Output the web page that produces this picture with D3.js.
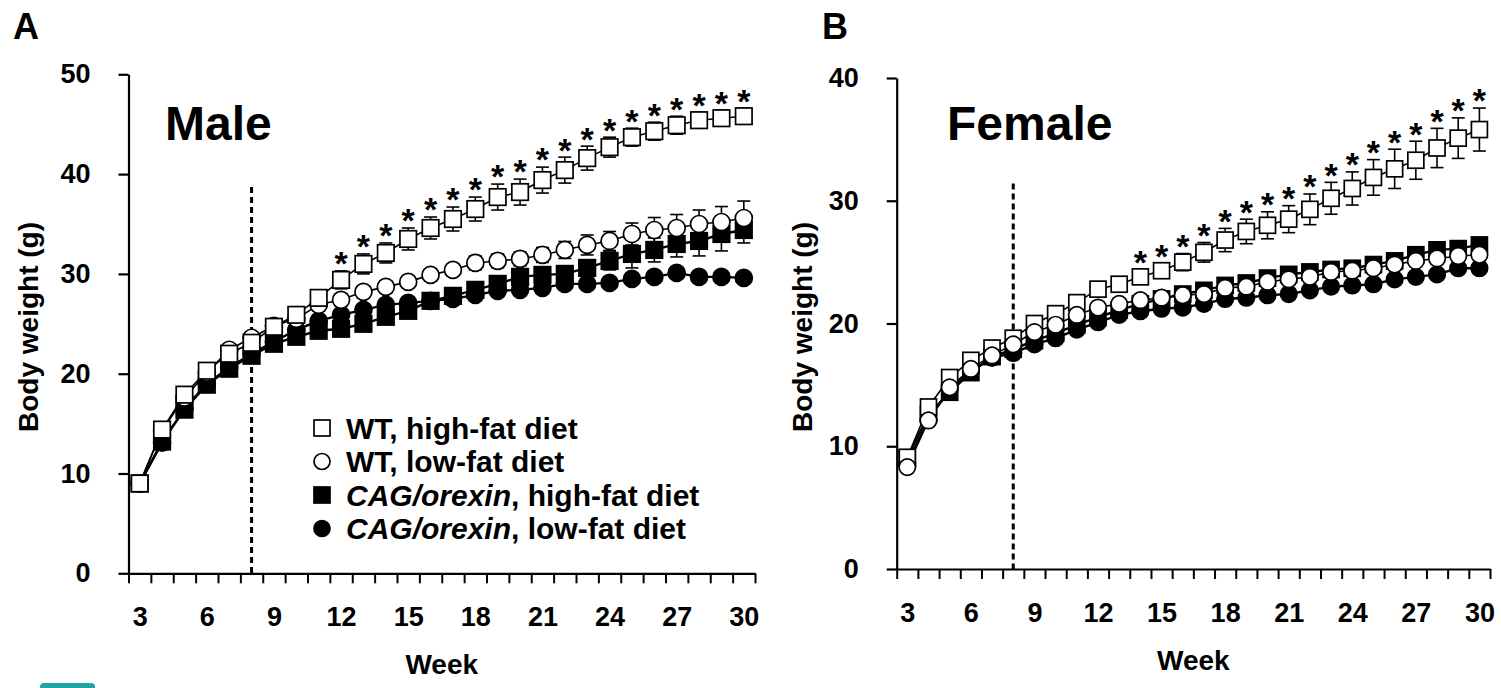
<!DOCTYPE html>
<html>
<head>
<meta charset="utf-8">
<script src="https://cdn.jsdelivr.net/npm/d3@7"></script>
<style>
  body { margin: 0; background: #fff; }
  svg text { font-family: "Liberation Sans", Arial, sans-serif; }
</style>
</head>
<body>
<script>
// weeks of age
const weeks = d3.range(3, 31);
const weekLabels = [3, 6, 9, 12, 15, 18, 21, 24, 27, 30];

// Male body weights (g)
const maleWtHf  = [9.0, 14.4, 17.9, 20.3, 22.0, 23.1, 24.7, 25.9, 27.6, 29.4, 31.0, 32.1, 33.5, 34.6, 35.5, 36.5, 37.7, 38.2, 39.4, 40.4, 41.6, 42.7, 43.7, 44.3, 44.9, 45.4, 45.6, 45.8];
const maleWtLf  = [9.0, 14.3, 17.6, 20.1, 22.4, 23.6, 24.8, 25.5, 26.9, 27.4, 28.2, 28.7, 29.2, 29.9, 30.4, 31.1, 31.3, 31.5, 31.9, 32.4, 32.9, 33.3, 34.0, 34.4, 34.6, 35.0, 35.2, 35.6];
const maleCagHf = [9.0, 13.2, 16.4, 18.9, 20.5, 21.8, 23.0, 23.7, 24.3, 24.5, 25.0, 25.7, 26.3, 27.3, 27.8, 28.4, 29.0, 29.7, 29.9, 30.0, 30.6, 31.3, 32.0, 32.4, 33.0, 33.3, 34.0, 34.4];
const maleCagLf = [9.0, 13.1, 16.5, 19.0, 20.6, 22.0, 23.2, 24.4, 25.3, 25.9, 26.4, 26.9, 27.1, 27.3, 27.5, 27.9, 28.3, 28.4, 28.6, 29.0, 29.0, 29.1, 29.5, 29.7, 30.1, 29.7, 29.7, 29.6];
const maleWtHfSem  = [0.3, 0.4, 0.5, 0.5, 0.5, 0.5, 0.6, 0.7, 0.8, 0.9, 1.0, 1.0, 1.1, 1.1, 1.2, 1.2, 1.3, 1.3, 1.3, 1.3, 1.2, 1.0, 0.9, 0.9, 0.9, 0.8, 0.8, 0.8];
const maleWtLfSem  = [0.3, 0.4, 0.5, 0.5, 0.5, 0.5, 0.5, 0.5, 0.6, 0.6, 0.6, 0.6, 0.6, 0.6, 0.6, 0.7, 0.7, 0.7, 0.75, 0.85, 1.0, 0.95, 1.1, 1.25, 1.35, 1.4, 1.55, 1.7];
const maleCagHfSem = [0.3, 0.4, 0.4, 0.4, 0.5, 0.5, 0.5, 0.5, 0.5, 0.6, 0.6, 0.6, 0.6, 0.6, 0.7, 0.7, 0.7, 0.7, 0.7, 0.8, 0.8, 0.9, 1.4, 1.2, 1.3, 1.5, 1.7, 1.3];
const maleCagLfSem = [0.3, 0.3, 0.4, 0.4, 0.4, 0.4, 0.4, 0.4, 0.4, 0.4, 0.5, 0.5, 0.5, 0.5, 0.5, 0.5, 0.5, 0.5, 0.5, 0.5, 0.5, 0.5, 0.5, 0.5, 0.5, 0.5, 0.5, 0.5];
const maleStarWeeks = d3.range(12, 31);

// Female body weights (g)
const femWtHf  = [9.1, 13.2, 15.6, 17.0, 18.0, 18.8, 20.0, 20.8, 21.7, 22.8, 23.2, 23.8, 24.3, 25.0, 25.8, 26.8, 27.5, 28.0, 28.5, 29.3, 30.2, 31.0, 31.9, 32.6, 33.3, 34.3, 35.1, 35.8];
const femWtLf  = [8.3, 12.1, 14.8, 16.3, 17.4, 18.3, 19.3, 19.9, 20.7, 21.3, 21.6, 21.9, 22.1, 22.3, 22.4, 22.9, 23.0, 23.4, 23.6, 23.8, 24.2, 24.3, 24.5, 24.8, 25.1, 25.3, 25.5, 25.6];
const femCagHf = [9.0, 12.6, 14.4, 16.0, 17.3, 17.9, 18.6, 19.2, 19.9, 20.5, 21.1, 21.6, 22.0, 22.4, 22.7, 23.1, 23.3, 23.7, 24.0, 24.2, 24.4, 24.5, 24.8, 25.1, 25.6, 26.0, 26.1, 26.4];
const femCagLf = [8.6, 12.2, 14.6, 16.1, 17.2, 17.6, 18.3, 18.8, 19.5, 20.1, 20.7, 21.0, 21.2, 21.3, 21.6, 22.0, 22.1, 22.3, 22.4, 22.7, 23.0, 23.1, 23.2, 23.6, 23.8, 24.0, 24.5, 24.5];
const femWtHfSem  = [0.3, 0.4, 0.4, 0.4, 0.4, 0.5, 0.5, 0.5, 0.5, 0.5, 0.5, 0.6, 0.6, 0.7, 0.8, 0.95, 1.0, 1.1, 1.1, 1.25, 1.3, 1.35, 1.45, 1.6, 1.55, 1.6, 1.65, 1.75];
const femWtLfSem  = weeks.map(() => 0.4);
const femCagHfSem = weeks.map(() => 0.4);
const femCagLfSem = weeks.map(() => 0.4);
const femStarWeeks = d3.range(14, 31);

// legend
const legendLabels = [
  {it: "", post: "WT, high-fat diet"},
  {it: "", post: "WT, low-fat diet"},
  {it: "CAG/orexin", post: ", high-fat diet"},
  {it: "CAG/orexin", post: ", low-fat diet"}
];

const dietStartWeek = 8;

let width = 1501, height = 688;

let svg = d3.select('body')
    .append('svg')
    .attr('width', width)
    .attr('height', height);

// marker drawing helper
function drawMarker(g, shape, filled, cx, cy, size) {
  if (shape === 'square') {
    g.append('rect')
      .attr('x', cx - size / 2).attr('y', cy - size / 2)
      .attr('width', size).attr('height', size)
      .attr('fill', filled ? '#000' : '#fff')
      .attr('stroke', '#000').attr('stroke-width', 1.7);
  } else {
    g.append('circle')
      .attr('cx', cx).attr('cy', cy).attr('r', size / 2)
      .attr('fill', filled ? '#000' : '#fff')
      .attr('stroke', '#000').attr('stroke-width', 1.7);
  }
}

function drawPanel(p) {
  let xScale = d3.scaleLinear()
      .domain([2.5, 30.5])
      .range([p.left, p.right]);
  let yScale = d3.scaleLinear()
      .domain([0, p.yMax])
      .range([p.bottom, p.top]);

  // y axis
  let yAxis = svg.append('g')
      .attr('transform', `translate(${p.left}, 0)`)
      .call(d3.axisLeft(yScale).tickValues(p.yTicks).tickSize(10).tickSizeOuter(0).tickPadding(28));
  yAxis.select('.domain').attr('stroke-width', 2.2);
  yAxis.selectAll('.tick line').attr('stroke-width', 2.2);
  yAxis.selectAll('text')
      .attr('font-size', 27).attr('font-weight', 'bold')
      .attr('font-family', '"Liberation Sans", Arial, sans-serif');

  // x axis: ticks between weeks
  let xAxis = svg.append('g')
      .attr('transform', `translate(0, ${p.bottom})`)
      .call(d3.axisBottom(xScale).tickValues(d3.range(2.5, 31, 1)).tickSize(10).tickSizeOuter(0).tickFormat(''));
  xAxis.select('.domain').attr('stroke-width', 2.2);
  xAxis.selectAll('.tick line').attr('stroke-width', 2);

  let xLabels = svg.append('g')
      .attr('transform', `translate(0, ${p.bottom})`)
      .call(d3.axisBottom(xScale).tickValues(weekLabels).tickSize(0).tickPadding(34));
  xLabels.select('.domain').remove();
  xLabels.selectAll('text')
      .attr('font-size', 27).attr('font-weight', 'bold')
      .attr('font-family', '"Liberation Sans", Arial, sans-serif');

  // axis titles
  svg.append('text')
      .attr('x', (p.left + p.right) / 2)
      .attr('y', p.bottom + 101)
      .attr('text-anchor', 'middle')
      .attr('font-size', 28).attr('font-weight', 'bold')
      .text('Week');
  svg.append('text')
      .attr('transform', `translate(${p.yTitleX}, ${p.yTitleY}) rotate(-90)`)
      .attr('text-anchor', 'middle')
      .attr('font-size', 28).attr('font-weight', 'bold')
      .text('Body weight (g)');

  // panel letter and title
  svg.append('text')
      .attr('x', p.letterX).attr('y', 39)
      .attr('font-size', 36).attr('font-weight', 'bold')
      .text(p.letter);
  svg.append('text')
      .attr('x', p.titleX).attr('y', 140)
      .attr('font-size', 48).attr('font-weight', 'bold')
      .text(p.title);

  // dashed line at start of diet
  svg.append('line')
      .attr('x1', xScale(dietStartWeek)).attr('x2', xScale(dietStartWeek))
      .attr('y1', yScale(p.dashTop)).attr('y2', p.bottom)
      .attr('stroke', '#000').attr('stroke-width', 3)
      .attr('stroke-dasharray', '6,4');

  let line = d3.line()
      .x((d, i) => xScale(weeks[i]))
      .y(d => yScale(d));

  // connecting lines
  p.series.forEach(s => {
    svg.append('path')
        .datum(s.values)
        .attr('d', line)
        .attr('fill', 'none')
        .attr('stroke', '#000')
        .attr('stroke-width', s.filled ? 2.4 : 1.6);
  });

  // error bars + markers, in draw order
  p.series.forEach(s => {
    let g = svg.append('g');
    s.values.forEach((v, i) => {
      let cx = xScale(weeks[i]);
      let e = s.sem[i];
      g.append('line')
          .attr('x1', cx).attr('x2', cx)
          .attr('y1', yScale(v - e)).attr('y2', yScale(v + e))
          .attr('stroke', '#000').attr('stroke-width', 1.6);
      [v - e, v + e].forEach(c => {
        g.append('line')
            .attr('x1', cx - 6.5).attr('x2', cx + 6.5)
            .attr('y1', yScale(c)).attr('y2', yScale(c))
            .attr('stroke', '#000').attr('stroke-width', 1.6);
      });
    });
    s.values.forEach((v, i) => {
      drawMarker(g, s.shape, s.filled, xScale(weeks[i]), yScale(v), s.shape === 'square' ? p.mSize : p.mSize + 0.5);
    });
  });

  // significance stars above WT high-fat
  let hf = p.series.find(s => s.key === 'wtHf');
  svg.selectAll(null)
      .data(p.starWeeks)
      .enter()
      .append('text')
      .attr('x', d => xScale(d))
      .attr('y', d => {
        let i = weeks.indexOf(d);
        return yScale(hf.values[i] + hf.sem[i]) - 15 + 0.57 * 34;
      })
      .attr('text-anchor', 'middle')
      .attr('font-size', 34).attr('font-weight', 'bold')
      .text('*');
}

const maleSeries = [
  {key: 'cagLf', shape: 'circle', filled: true,  values: maleCagLf, sem: maleCagLfSem},
  {key: 'cagHf', shape: 'square', filled: true,  values: maleCagHf, sem: maleCagHfSem},
  {key: 'wtLf',  shape: 'circle', filled: false, values: maleWtLf,  sem: maleWtLfSem},
  {key: 'wtHf',  shape: 'square', filled: false, values: maleWtHf,  sem: maleWtHfSem}
];
const femSeries = [
  {key: 'cagLf', shape: 'circle', filled: true,  values: femCagLf, sem: femCagLfSem},
  {key: 'cagHf', shape: 'square', filled: true,  values: femCagHf, sem: femCagHfSem},
  {key: 'wtHf',  shape: 'square', filled: false, values: femWtHf,  sem: femWtHfSem},
  {key: 'wtLf',  shape: 'circle', filled: false, values: femWtLf,  sem: femWtLfSem}
];

drawPanel({
  left: 128.5, right: 755, top: 74.3, bottom: 573.3, yMax: 50,
  yTicks: [0, 10, 20, 30, 40, 50], dashTop: 38.7, mSize: 16.5,
  yTitleX: 38, yTitleY: 327, letter: 'A', letterX: 13,
  title: 'Male', titleX: 165, series: maleSeries, starWeeks: maleStarWeeks
});
drawPanel({
  left: 896.7, right: 1490, top: 78, bottom: 569, yMax: 40,
  yTicks: [0, 10, 20, 30, 40], dashTop: 31.4, mSize: 16,
  yTitleX: 812, yTitleY: 327, letter: 'B', letterX: 822,
  title: 'Female', titleX: 947, series: femSeries, starWeeks: femStarWeeks
});

// legend in panel A
const legendShapes = [
  {shape: 'square', filled: false},
  {shape: 'circle', filled: false},
  {shape: 'square', filled: true},
  {shape: 'circle', filled: true}
];
let legend = svg.append('g');
legendLabels.forEach((l, i) => {
  let cy = 428 + i * 33.5;
  drawMarker(legend, legendShapes[i].shape, legendShapes[i].filled, 322, cy, 16);
  let t = legend.append('text')
      .attr('x', 346).attr('y', cy + 10.5)
      .attr('font-size', 30).attr('font-weight', 'bold');
  if (l.it) t.append('tspan').attr('font-style', 'italic').text(l.it);
  t.append('tspan').text(l.post);
});

// journal logo fragment at bottom-left
svg.append('rect')
    .attr('x', 40).attr('y', 683).attr('width', 55).attr('height', 10)
    .attr('rx', 4).attr('fill', '#1fa3a3');
</script>
</body>
</html>
